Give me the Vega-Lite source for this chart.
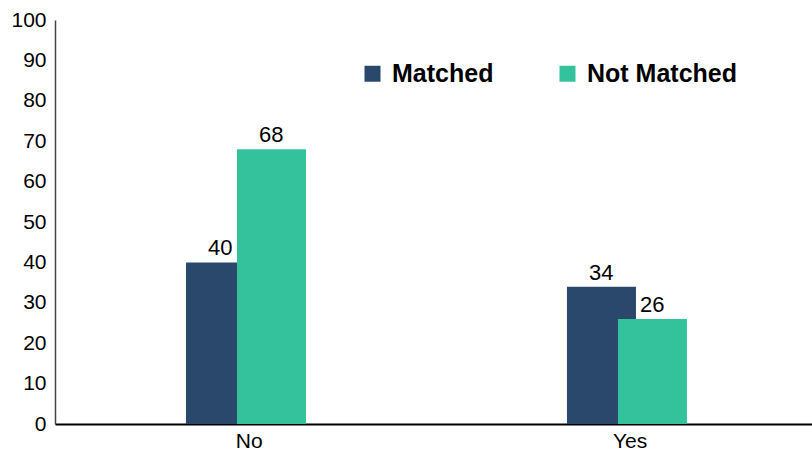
{
  "$schema": "https://vega.github.io/schema/vega-lite/v6.json",
  "width": 757,
  "height": 404,
  "autosize": {"type": "none"},
  "padding": {"left": 55, "top": 20, "right": 0, "bottom": 30},
  "background": "white",
  "config": {
    "view": {"stroke": null},
    "font": "Liberation Sans"
  },
  "data": {
    "values": [
      {"answer": "No", "group": "Matched", "value": 40},
      {"answer": "No", "group": "Not Matched", "value": 68},
      {"answer": "Yes", "group": "Matched", "value": 34},
      {"answer": "Yes", "group": "Not Matched", "value": 26}
    ]
  },
  "encoding": {
    "x": {
      "field": "answer",
      "type": "nominal",
      "scale": {"paddingInner": 0.685, "paddingOuter": 0.336, "align": 0.524, "round": false},
      "axis": {
        "title": null,
        "labelAngle": 0,
        "ticks": false,
        "labelFontSize": 21,
        "labelColor": "#000",
        "labelPadding": 6,
        "labelDx": -3.5,
        "labelOverlap": false,
        "domainColor": "#000",
        "domainWidth": 2
      }
    },
    "xOffset": {"field": "group", "type": "nominal", "scale": {"paddingInner": 0, "paddingOuter": 0.1765, "align": 1, "round": false}},
    "y": {
      "field": "value",
      "type": "quantitative",
      "scale": {"domain": [0, 100]},
      "axis": {
        "title": null,
        "grid": false,
        "ticks": false,
        "values": [0, 10, 20, 30, 40, 50, 60, 70, 80, 90, 100],
        "labelFontSize": 21,
        "labelOverlap": false,
        "labelColor": "#000",
        "labelPadding": 9,
        "domainColor": "#444",
        "domainWidth": 1.5
      }
    }
  },
  "layer": [
    {
      "mark": {"type": "bar", "width": {"band": 1.353}},
      "encoding": {
        "color": {
          "field": "group",
          "type": "nominal",
          "scale": {"domain": ["Matched", "Not Matched"], "range": ["#29486B", "#33C29B"]},
          "legend": {
            "title": null,
            "orient": "none",
            "direction": "horizontal",
            "legendX": 305,
            "legendY": 41,
            "symbolType": "square",
            "symbolSize": 256,
            "symbolOpacity": 1,
            "symbolStrokeWidth": 0,
            "labelFontSize": 25,
            "labelFontWeight": "bold",
            "labelColor": "#000",
            "labelOffset": 7,
            "columnPadding": 61,
            "padding": 0
          }
        }
      }
    },
    {
      "mark": {"type": "text", "baseline": "alphabetic", "dy": -7, "dx": -12.5, "fontSize": 22, "color": "#000"},
      "encoding": {"text": {"field": "value", "type": "quantitative"}}
    }
  ]
}
